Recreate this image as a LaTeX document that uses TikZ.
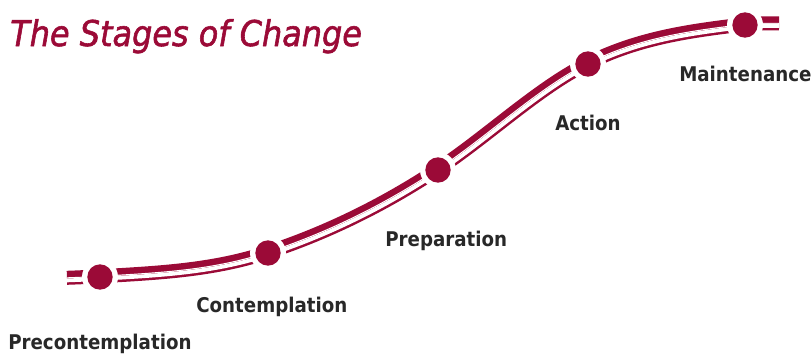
\documentclass[tikz,border=0pt]{standalone}
\usepackage{fontspec}
\setmainfont{DejaVu Sans}[FakeStretch=0.9]
\newfontfamily\stagetitlefont{DejaVu Sans}[FakeStretch=0.9, FakeBold=1.6]
\definecolor{stagered}{RGB}{155,10,55}
\definecolor{stagegray}{RGB}{40,40,40}
\tikzset{
  stage curve/.style={insert path={(67,278.5) .. controls (78,278.1) and (89,277.6) .. (100,277)
      .. controls (156,273.6) and (212,271.5) .. (268,253)
      .. controls (324.7,234.3) and (381.3,207.4) .. (438,170)
      .. controls (488,137) and (538,89) .. (588,64)
      .. controls (640.3,37.8) and (692.7,31.3) .. (745,25)
      .. controls (756.3,23.6) and (767.7,24) .. (779,24)}},
  stage label/.style={anchor=base west, inner sep=0pt, text=stagegray,
      font=\fontsize{15.2}{18}\selectfont\bfseries},
}
\begin{document}
\begin{tikzpicture}[x=0.75pt,y=-0.75pt]
      \useasboundingbox (0,0) rectangle (812,354);
      \coordinate (pre) at (100,277);
      \coordinate (con) at (268,253);
      \coordinate (prep) at (438,170);
      \coordinate (act) at (588,64);
      \coordinate (main) at (745,25);
      % wide band on the upper side of the curve
      \begin{scope}
        \clip[stage curve] -- (900,24) -- (900,-100) -- (-100,-100) -- (-100,278.5) -- cycle;
        \draw[stagered, line width=11.55pt, stage curve];
        \draw[white, line width=1.8pt, stage curve];
      \end{scope}
      % thin line on the lower side
      \begin{scope}
        \clip[stage curve] -- (900,24) -- (900,500) -- (-100,500) -- (-100,278.5) -- cycle;
        \draw[stagered, line width=9.45pt, stage curve];
        \draw[white, line width=5.7pt, stage curve];
      \end{scope}
      \foreach \s in {pre,con,prep,act,main} {
          \fill[white] (\s) circle (13.5pt);
          \fill[stagered] (\s) circle (9.5pt);
        }
      \node[anchor=base west, inner sep=0pt, text=stagered,
            font=\stagetitlefont\fontsize{26.6}{30}\selectfont\itshape] (title) at (10,46) {The Stages of Change};
      \node[stage label] (pre label) at (8,349) {Precontemplation};
      \node[stage label] (con label) at (196,312) {Contemplation};
      \node[stage label] (prep label) at (385,246) {Preparation};
      \node[stage label] (act label) at (555,130) {Action};
      \node[stage label] (main label) at (679,81.5) {Maintenance};
    \end{tikzpicture}
\end{document}
